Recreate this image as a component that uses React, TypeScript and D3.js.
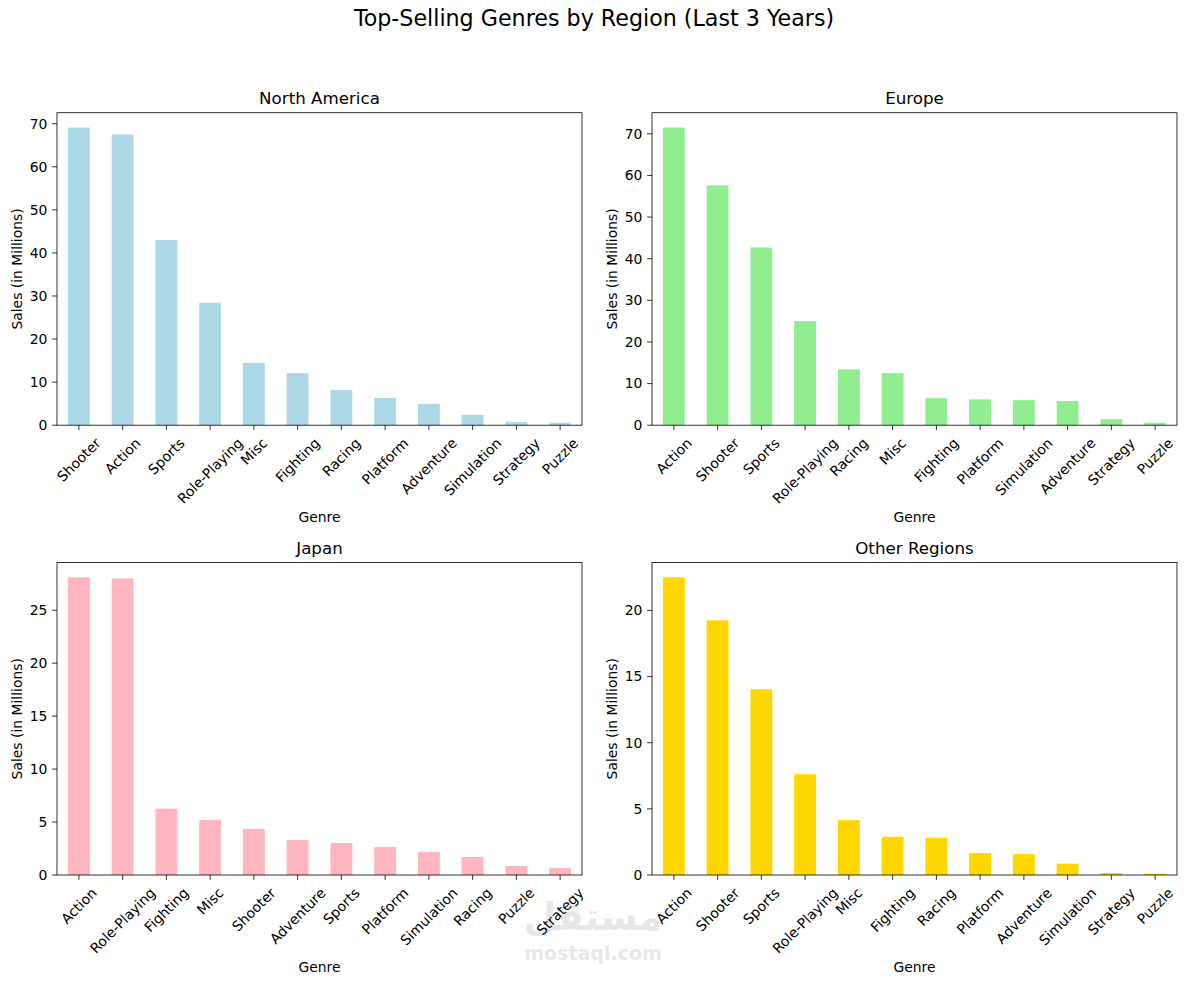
import * as React from 'react'
import { useEffect, useRef } from 'react'
import * as d3 from 'd3'

// sales per region (millions)
const naGenres = ['Shooter', 'Action', 'Sports', 'Role-Playing', 'Misc', 'Fighting', 'Racing', 'Platform', 'Adventure', 'Simulation', 'Strategy', 'Puzzle']
const naSales = [69.1, 67.5, 43.0, 28.4, 14.45, 12.1, 8.2, 6.3, 4.95, 2.4, 0.77, 0.54]

const euGenres = ['Action', 'Shooter', 'Sports', 'Role-Playing', 'Racing', 'Misc', 'Fighting', 'Platform', 'Simulation', 'Adventure', 'Strategy', 'Puzzle']
const euSales = [71.5, 57.6, 42.7, 25.0, 13.4, 12.5, 6.5, 6.2, 6.0, 5.8, 1.45, 0.55]

const jpGenres = ['Action', 'Role-Playing', 'Fighting', 'Misc', 'Shooter', 'Adventure', 'Sports', 'Platform', 'Simulation', 'Racing', 'Puzzle', 'Strategy']
const jpSales = [28.1, 28.0, 6.26, 5.19, 4.34, 3.3, 3.02, 2.64, 2.17, 1.7, 0.85, 0.66]

const otherGenres = ['Action', 'Shooter', 'Sports', 'Role-Playing', 'Misc', 'Fighting', 'Racing', 'Platform', 'Adventure', 'Simulation', 'Strategy', 'Puzzle']
const otherSales = [22.5, 19.25, 14.04, 7.62, 4.15, 2.89, 2.82, 1.66, 1.58, 0.86, 0.15, 0.1]

const WIDTH = 1187
const HEIGHT = 985
const FONT = 'DejaVu Sans, sans-serif'

const panels = [
  { title: 'North America', genres: naGenres, values: naSales, color: '#add8e6', left: 57, top: 112.7 },
  { title: 'Europe', genres: euGenres, values: euSales, color: '#90ee90', left: 652, top: 112.7 },
  { title: 'Japan', genres: jpGenres, values: jpSales, color: '#ffb6c1', left: 57, top: 562.5 },
  { title: 'Other Regions', genres: otherGenres, values: otherSales, color: '#ffd700', left: 652, top: 562.5 },
]

const plotW = 525
const plotH = 312.5

export default function App() {
  const svgRef = useRef<SVGSVGElement>(null)

  useEffect(() => {
    document.body.style.margin = '0'
    if (!svgRef.current) return
    const svg = d3.select(svgRef.current)
    svg.selectAll('*').remove()

    svg.append('rect').attr('width', WIDTH).attr('height', HEIGHT).attr('fill', '#fff')

    svg.append('text')
      .attr('x', 594)
      .attr('y', 26)
      .attr('text-anchor', 'middle')
      .attr('font-family', FONT)
      .attr('font-size', 22.2)
      .text('Top-Selling Genres by Region (Last 3 Years)')

    panels.forEach(p => {
      const g = svg.append('g').attr('transform', `translate(${p.left},${p.top})`)

      const x = d3.scaleLinear().domain([-0.5, p.genres.length - 0.5]).range([0, plotW])
      const yMax = (d3.max(p.values) as number) * 1.05
      const y = d3.scaleLinear().domain([0, yMax]).range([plotH, 0])

      // bars (pandas default width 0.5)
      g.selectAll('rect.bar')
        .data(p.values)
        .join('rect')
        .attr('class', 'bar')
        .attr('x', (_, i) => x(i - 0.25))
        .attr('width', x(0.25) - x(-0.25))
        .attr('y', d => y(d))
        .attr('height', d => plotH - y(d))
        .attr('fill', p.color)

      // y axis ticks
      const yTicks = y.ticks(6)
      const yt = g.selectAll('g.ytick').data(yTicks).join('g').attr('class', 'ytick')
        .attr('transform', d => `translate(0,${y(d)})`)
      yt.append('line').attr('x1', -4.9).attr('x2', 0).attr('stroke', '#000').attr('stroke-width', 0.8)
      yt.append('text')
        .attr('x', -9.7)
        .attr('dy', '0.35em')
        .attr('text-anchor', 'end')
        .attr('font-family', FONT)
        .attr('font-size', 13.9)
        .text(d => d3.format('d')(d))

      // x axis ticks, rotated 45 like matplotlib (centered bbox below tick)
      const xt = g.selectAll('g.xtick').data(p.genres).join('g').attr('class', 'xtick')
      xt.append('line')
        .attr('x1', (_, i) => x(i)).attr('x2', (_, i) => x(i))
        .attr('y1', plotH).attr('y2', plotH + 4.9)
        .attr('stroke', '#000').attr('stroke-width', 0.8)
      xt.append('text')
        .attr('text-anchor', 'middle')
        .attr('dy', '0.35em')
        .attr('font-family', FONT)
        .attr('font-size', 13.9)
        .text(d => d)
        .each(function (_, i) {
          const el = this as SVGTextElement
          const w = el.getComputedTextLength()
          const h = 16.2
          const boxH = (w + h) * Math.SQRT1_2
          const cy = plotH + 9.7 + boxH / 2
          d3.select(el).attr('transform', `translate(${x(i)},${cy}) rotate(-45)`)
        })

      // frame
      g.append('rect')
        .attr('width', plotW).attr('height', plotH)
        .attr('fill', 'none').attr('stroke', '#000').attr('stroke-width', 0.8)

      g.append('text')
        .attr('x', plotW / 2).attr('y', -8.3)
        .attr('text-anchor', 'middle')
        .attr('font-family', FONT)
        .attr('font-size', 16.7)
        .text(p.title)

      g.append('text')
        .attr('x', plotW / 2).attr('y', plotH + 97)
        .attr('text-anchor', 'middle')
        .attr('font-family', FONT)
        .attr('font-size', 13.9)
        .text('Genre')

      g.append('text')
        .attr('transform', `translate(${21.5 - 57},${plotH / 2}) rotate(-90)`)
        .attr('text-anchor', 'middle')
        .attr('font-family', FONT)
        .attr('font-size', 13.9)
        .text('Sales (in Millions)')
    })

    // watermark
    svg.append('text')
      .attr('x', 593).attr('y', 930)
      .attr('text-anchor', 'middle')
      .attr('font-family', FONT)
      .attr('font-size', 38)
      .attr('font-weight', 'bold')
      .attr('fill', '#000')
      .attr('opacity', 0.09)
      .text('مستقل')
    svg.append('text')
      .attr('x', 593).attr('y', 960)
      .attr('text-anchor', 'middle')
      .attr('font-family', FONT)
      .attr('font-size', 19)
      .attr('font-weight', 'bold')
      .attr('fill', '#000')
      .attr('opacity', 0.09)
      .text('mostaql.com')
  }, [])

  return <svg ref={svgRef} width={WIDTH} height={HEIGHT} style={{ display: 'block' }} />
}
